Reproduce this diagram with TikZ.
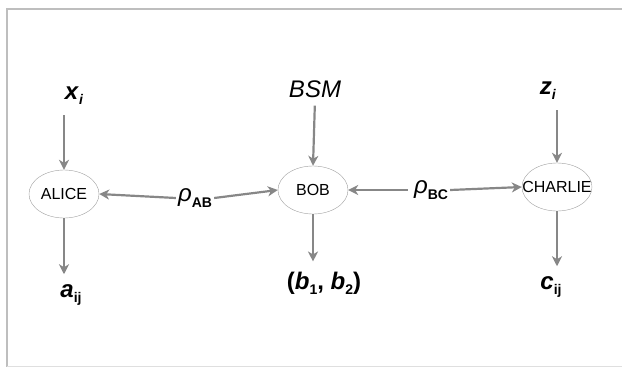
\documentclass[tikz,border=0pt]{standalone}
\usepackage{fontspec}
\setmainfont{Liberation Sans}
\usetikzlibrary{shapes.geometric,arrows.meta}
\definecolor{flowgray}{RGB}{135,135,135}
\definecolor{framegray}{RGB}{190,190,190}
\newcommand{\lsub}[1]{\raisebox{-0.22em}{\fontsize{14}{14}\selectfont\bfseries #1}}
\newcommand{\bi}[1]{\textbf{\textit{#1}}}

\begin{document}
\begin{tikzpicture}[x=1pt, y=-1pt,
	party/.style = {draw=flowgray!80, ellipse, minimum width=70pt, minimum height=48pt, inner sep=-12pt,
		font=\fontsize{16}{16}\selectfont},
	lbl/.style = {inner sep=2pt, font=\fontsize{24}{24}\selectfont},
	flow/.style = {draw=flowgray, line width=2.2pt, -{Stealth[length=10pt,width=10pt,inset=3pt]}}]
	\useasboundingbox (0,0) rectangle (622,367);
	\draw[framegray, line width=2pt] (7,367) -- (7,9) -- (622,9);
	\draw[framegray!50, line width=1pt] (7,366) -- (622,366);
	% the three parties
	\node[party] (alice) at (64,194) {ALICE};
	\node[party] (bob) at (313,190) {BOB};
	\node[party] (charlie) at (557,187) {CHARLIE};
	% inputs and outputs
	\node[lbl] (xin) at (74,96) {\bi{x}\lsub{\textit{i}}};
	\node[lbl] (bsm) at (315,89) {\textit{BSM}};
	\node[lbl] (zin) at (548,91) {\bi{z}\lsub{\textit{i}}};
	\node[lbl] (aout) at (71,295) {\bi{a}\lsub{ij}};
	\node[lbl] (bout) at (324,283) {\textbf{(}\bi{b}\lsub{1}\textbf{,} \bi{b}\lsub{2}\textbf{)}};
	\node[lbl] (cout) at (551,287) {\bi{c}\lsub{ij}};
	% sources
	\node[lbl] (rab) at (195,198) {\textit{ρ}\lsub{AB}};
	\node[lbl] (rbc) at (431,190) {\textit{ρ}\lsub{BC}};

	\draw[flow, shorten <=8pt] (xin.south -| alice.north) -- (alice.north);
	\draw[flow, shorten <=6pt] (bsm.south) -- (bob.north);
	\draw[flow, shorten <=8pt] (zin.south -| charlie.north) -- (charlie.north);
	\draw[flow, shorten >=8pt] (alice.south) -- (aout.north -| alice.south);
	\draw[flow, shorten >=8pt] (bob.south) -- (bout.north -| bob.south);
	\draw[flow, shorten >=8pt] (charlie.south) -- (cout.north -| charlie.south);
	\draw[flow] (rab.west) -- (alice.east);
	\draw[flow] (rab.east) -- (bob.west);
	\draw[flow, shorten <=4pt] (rbc.west) -- (bob.east);
	\draw[flow] (rbc.east) -- (charlie.west);
\end{tikzpicture}
\end{document}
